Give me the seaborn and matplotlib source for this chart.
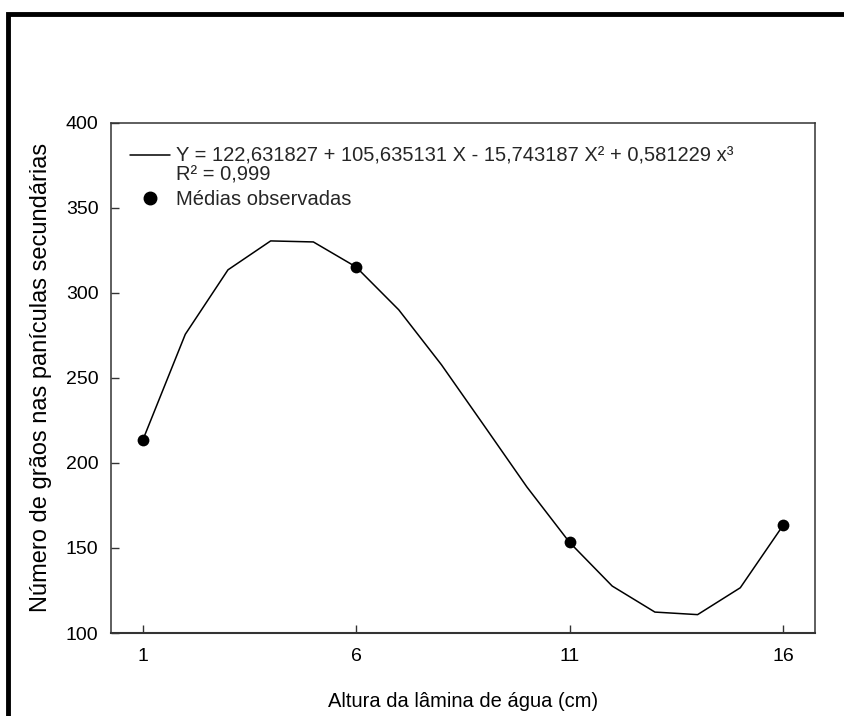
import matplotlib
matplotlib.use("Agg")
import matplotlib.pyplot as plt
import matplotlib.patches as mpatches
from matplotlib.lines import Line2D
import seaborn as sns
import pandas as pd

# fitted curve values (x = 1..16)
curve_x = [1, 2, 3, 4, 5, 6, 7, 8, 9, 10, 11, 12, 13, 14, 15, 16]
curve_y = [213.1, 275.6, 313.5, 330.5, 329.9, 315.2, 290.0, 257.7,
           221.9, 185.9, 153.3, 127.6, 112.3, 110.8, 126.6, 163.2]

# observed means
obs_x = [1, 6, 11, 16]
obs_y = [213.3, 315.3, 153.5, 163.5]

xticks = [1, 6, 11, 16]
yticks = [100, 150, 200, 250, 300, 350, 400]

eq_label = "Y = 122,631827 + 105,635131 X - 15,743187 X² + 0,581229 x³"
r2_label = "R² = 0,999"
obs_label = "Médias observadas"
xlabel = "Altura da lâmina de água (cm)"
ylabel = "Número de grãos nas panículas secundárias"

sns.set_theme(style="white")
plt.rcParams['font.family'] = ['Liberation Sans', 'DejaVu Sans']

W, H = 845, 716
AX_L, AX_R, AX_T, AX_B = 111, 815, 122.7, 633
fig = plt.figure(figsize=(W / 100, H / 100), dpi=100)
ax = fig.add_axes([AX_L / W, 1 - AX_B / H, (AX_R - AX_L) / W, (AX_B - AX_T) / H])

df_curve = pd.DataFrame({"x": curve_x, "y": curve_y})
df_obs = pd.DataFrame({"x": obs_x, "y": obs_y})

sns.lineplot(data=df_curve, x="x", y="y", ax=ax, color="black", linewidth=1.1,
             legend=False)
sns.scatterplot(data=df_obs, x="x", y="y", ax=ax, color="black", s=72,
                edgecolor="black", linewidth=0, legend=False, zorder=3)

ax.set_xlim(0.26, 16.75)
ax.set_ylim(100, 400)
ax.set_xticks(xticks)
ax.set_xticklabels([str(v) for v in xticks])
ax.set_yticks(yticks)
ax.set_yticklabels([str(v) for v in yticks])

for sp in ax.spines.values():
    sp.set_visible(True)
    sp.set_color("#333333")
    sp.set_linewidth(1.1)
ax.spines['bottom'].set_linewidth(1.5)

ax.tick_params(axis="both", which="major", direction="in", length=6, width=1,
               color="#333333", labelsize=14, labelcolor="black",
               bottom=True, left=True, top=False, right=False)
ax.tick_params(axis="y", pad=9)
ax.tick_params(axis="x", pad=11)

ax.set_xlabel(xlabel, fontsize=14.5, color="black", labelpad=19)
ax.set_ylabel(ylabel, fontsize=17, color="black", labelpad=10)

axw, axh = AX_R - AX_L, AX_B - AX_T
common = dict(loc="upper left", frameon=False, fontsize=14.5,
              handlelength=2.0, handletextpad=0.3, labelspacing=0.0,
              borderaxespad=0.0, borderpad=0.0)

leg1 = ax.legend([Line2D([], [], color="black", linewidth=1.1),
                  Line2D([], [], color="none")],
                 [eq_label, r2_label],
                 bbox_to_anchor=(19 / axw, 1 - 24 / axh), **common)
ax.add_artist(leg1)
leg2 = ax.legend([Line2D([], [], color="black", marker="o", linestyle="none",
                         markersize=9)],
                 [obs_label],
                 bbox_to_anchor=(19 / axw, 1 - 67 / axh), **common)

# outer thick border (clipped at right and bottom)
rect = mpatches.Rectangle((8.5 / W, -0.1), 1.2, 1 - 14.5 / H + 0.1,
                          transform=fig.transFigure, fill=False,
                          edgecolor="black", linewidth=3.5, clip_on=False)
fig.patches.append(rect)

fig.savefig("out.png", dpi=100)
